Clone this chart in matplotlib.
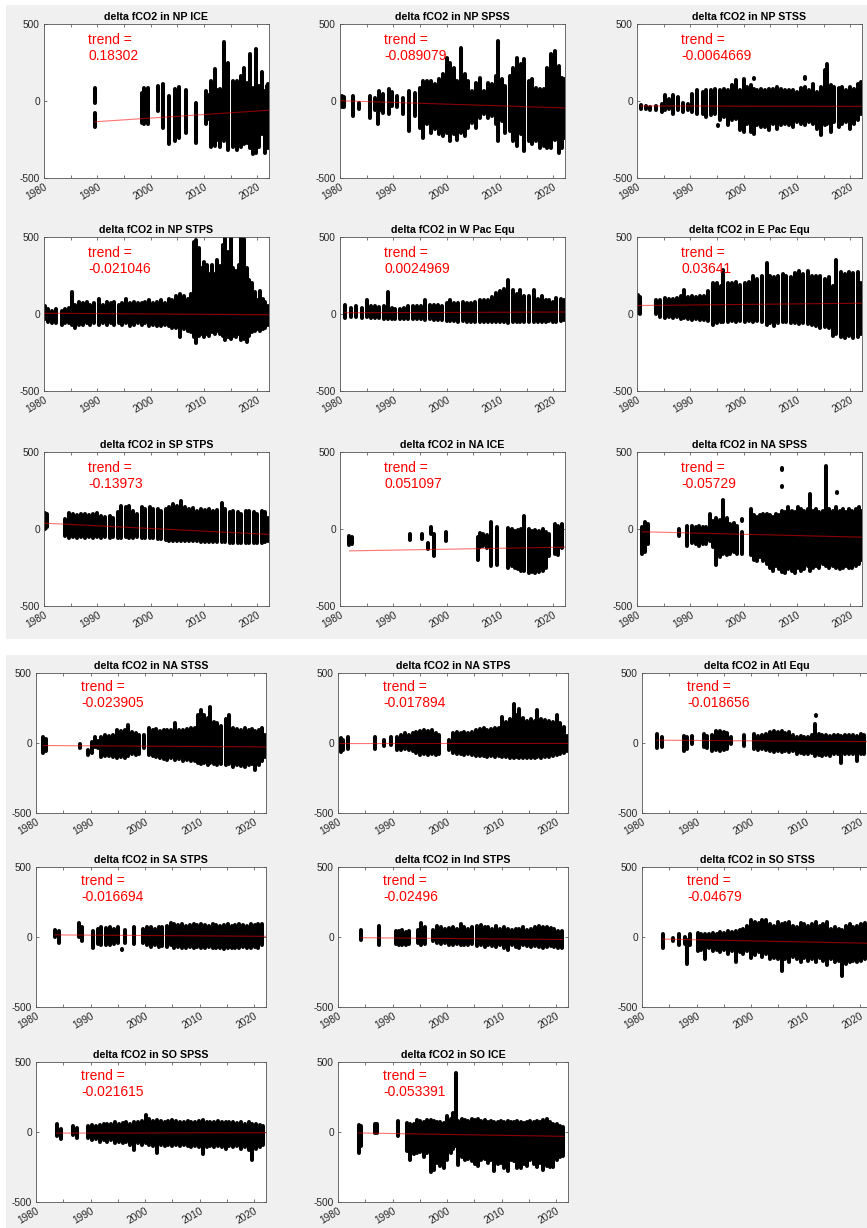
import matplotlib
matplotlib.use('Agg')
import matplotlib.pyplot as plt
from matplotlib.patches import Rectangle

plt.rcParams['font.family'] = ['Liberation Sans', 'DejaVu Sans']

W, H = 867, 1228

# --- data: (year, low, high) of each vertical run of points ---
np_ice = [(1989.5, -170, -75), (1989.5, -10, 85), (1998.3, -140, 55), (1998.8, -150, 85), (1999.5, -150, 87),
          (2001.4, -65, 95), (2002.4, -175, 108), (2003.5, -280, 35), (2004.5, -260, 75), (2005.4, -240, 90),
          (2005.4, 160, 165), (2006.7, -205, 70), (2007.6, -35, -30), (2008.6, -270, -10), (2010.4, -150, 65),
          (2010.8, -120, 40), (2011.4, -300, 130), (2012, -290, 205), (2012.5, -250, 70), (2013, -300, 75),
          (2013.7, -260, 380), (2014, -220, 100), (2014.5, -315, 250), (2015.4, -300, 130), (2015.8, -260, 110),
          (2016.2, -315, 130), (2016.6, -250, 100), (2017, -300, 165), (2017.6, -280, 215), (2018.1, -270, 120),
          (2018.6, -305, 305), (2019.2, -345, 85), (2019.8, -335, 340), (2020.3, -300, 100), (2020.8, -215, 190),
          (2021.4, -335, 65), (2021.8, -290, 100), (2022, -305, 110)]
np_spss = [(1980.3, -40, 30), (1980.8, -40, 25), (1982.5, -100, 30), (1983.5, -50, -10), (1985.6, -108, 33),
           (1986.5, -60, 20), (1987.3, -65, 65), (1987.2, -150, -70), (1988.1, -75, 45), (1989.2, -87, 76),
           (1989.8, -30, 60), (1990.6, -40, 33), (1991.8, -87, 22), (1993, -195, 65), (1994, -98, 54),
           (1995, -174, 87), (1995.6, -239, 130), (1996.4, -152, 130), (1997, -206, 130), (1997.8, -185, 108),
           (1998.6, -217, 141), (1999.3, -228, 174), (2000, -206, 282), (2000.6, -260, 250), (2001.3, -217, 217),
           (2002, -250, 130), (2002.7, -206, 347), (2003.4, -228, 174), (2004.1, -174, 130), (2004.8, -141, 65),
           (2005.5, -174, 120), (2006.3, -108, 152), (2007, -87, 65), (2007.7, -108, 120), (2008.5, -98, 108),
           (2009.2, -152, 163), (2009.7, -260, 390), (2010.4, -130, 141), (2011, -206, 98), (2011.8, -195, 163),
           (2012.5, -260, 217), (2013.2, -293, 282), (2014, -217, 239), (2014.6, -326, 271), (2015.4, -260, 130),
           (2016, -282, 141), (2016.8, -260, 87), (2017.5, -304, 76), (2018.2, -293, 76), (2018.9, -304, 217),
           (2019.6, -304, 304), (2020.3, -250, 325), (2021, -336, 228), (2021.7, -304, 152), (2022, -240, 141)]
np_stss = [(1980.8, -50, -25), (1981.6, -55, -35), (1982.5, -60, -40), (1983.5, -60, -35), (1984.6, -70, -20),
           (1985.2, -60, 37), (1986, -50, 15), (1986.8, -82, 37), (1987.6, -60, 25), (1988.6, -70, -15),
           (1989.6, -60, -20), (1990.4, -70, 48), (1991.3, -82, 69), (1992.3, -82, 58), (1993, -104, 69),
           (1993.8, -93, 69), (1994.6, -82, 80), (1995.2, -165, -155), (1995.6, -126, 69), (1996.3, -104, 80),
           (1997, -156, 69), (1997.8, -126, 102), (1998.5, -115, 135), (1999.3, -191, 69), (2000, -202, 145),
           (2000.6, -148, 91), (2001.3, -202, 102), (2002, -213, 80), (2002, 140, 150), (2002.6, -159, 69),
           (2003.3, -170, 80), (2004, -170, 69), (2004.8, -191, 80), (2005.5, -148, 80), (2006.2, -180, 91),
           (2007, -159, 80), (2007.7, -148, 69), (2008.5, -159, 74), (2009.2, -170, 69), (2010, -137, 58),
           (2010.7, -148, 87), (2011.5, -159, 91), (2011.5, 145, 155), (2012.2, -137, 69), (2013, -148, 113),
           (2013.7, -180, 58), (2014.5, -222, 91), (2015.2, -159, 200), (2015.6, -148, 243), (2016.3, -202, 102),
           (2017, -137, 91), (2017.8, -170, 87), (2018.5, -148, 91), (2019.2, -137, 69), (2020, -180, 91),
           (2020.7, -148, 80), (2021.4, -126, 113), (2022, -82, 124)]
np_stps = [(1980.2, -30, 50), (1980.8, -50, 30), (1981.5, -60, 20), (1982.3, -60, 30), (1983.3, -70, 20),
           (1984, -60, 30), (1984.6, -60, 40), (1985.3, -70, 140), (1985.8, -90, 60), (1986.5, -70, 80),
           (1987.3, -70, 70), (1988, -60, 80), (1988.7, -70, 60), (1989.4, -60, 70), (1990.3, -70, 100),
           (1991, -60, 60), (1991.8, -70, 80), (1992.5, -60, 70), (1993.2, -70, 80), (1994, -60, 60),
           (1994.7, -70, 70), (1995.4, -60, 100), (1996.2, -80, 70), (1996.9, -70, 80), (1997.6, -60, 70),
           (1998.3, -70, 70), (1999, -60, 80), (1999.7, -80, 90), (2000.5, -70, 70), (2001.2, -80, 80),
           (2002, -80, 90), (2002.7, -70, 70), (2003.4, -80, 100), (2004.1, -90, 90), (2004.8, -90, 120),
           (2005.5, -150, 130), (2006.3, -100, 120), (2007, -110, 100), (2007.6, -120, 130), (2008.1, -150, 470),
           (2008.5, -190, 480), (2009, -140, 430), (2009.5, -130, 300), (2010, -150, 340), (2010.5, -130, 320),
           (2011, -140, 260), (2011.5, -120, 320), (2012, -130, 260), (2012.5, -110, 350), (2013, -130, 310),
           (2013.5, -140, 450), (2014, -170, 500), (2014.5, -150, 400), (2015, -160, 500), (2015.5, -140, 300),
           (2016, -150, 280), (2016.5, -130, 320), (2017, -170, 500), (2017.5, -160, 490), (2018, -180, 300),
           (2018.5, -140, 220), (2019, -120, 200), (2019.5, -110, 140), (2020, -100, 90), (2020.5, -110, 150),
           (2021, -100, 100), (2021.5, -90, 80), (2022, -70, 50)]
wpac_equ = [(1980.9, -25, 60), (1982, -20, 40), (1983, -20, 54), (1984.2, -25, 40), (1985.1, -20, 93),
            (1985.8, -25, 50), (1986.6, -25, 50), (1987.4, -25, 45), (1988.2, -30, 50), (1989, -30, 140),
            (1989.7, -30, 40), (1990.4, -30, 35), (1991.2, -30, 30), (1992, -35, 40), (1992.8, -30, 50),
            (1993.6, -35, 50), (1994.4, -35, 50), (1995.2, -35, 50), (1996, -40, 93), (1996.8, -35, 60),
            (1997.6, -40, 60), (1998.4, -40, 60), (1999.2, -40, 55), (2000, -45, 70), (2000.6, -45, 93),
            (2001.4, -45, 70), (2002.2, -50, 70), (2003, -45, 75), (2003.8, -50, 70), (2004.6, -50, 70),
            (2005.4, -50, 80), (2006.2, -55, 93), (2007, -50, 93), (2007.8, -50, 93), (2008.6, -55, 110),
            (2009.2, -50, 136), (2010, -55, 147), (2010.8, -55, 160), (2011.6, -60, 218), (2012.4, -55, 158),
            (2013.2, -55, 130), (2013.7, -50, 153), (2014.6, -55, 114), (2015.4, -50, 120), (2016.4, -55, 158),
            (2017.2, -50, 100), (2017.8, -55, 114), (2018.6, -50, 90), (2019.2, -45, 93), (2020, -50, 80),
            (2020.6, -50, 104), (2021.4, -45, 95), (2022, -40, 93)]
epac_equ = [(1980.2, 6, 125), (1980.6, 0, 110), (1983.6, 0, 93), (1984.4, -20, 90), (1985.2, -26, 104),
            (1986, -20, 95), (1986.8, -25, 100), (1987.5, -20, 104), (1988.3, -30, 120), (1988.8, -25, 158),
            (1989.5, -30, 110), (1990.3, -37, 115), (1991, -35, 110), (1991.8, -40, 115), (1992.6, -37, 120),
            (1993.4, -45, 150), (1994.2, -70, 200), (1995, -60, 200), (1995.7, -55, 180), (1996.2, -50, 287),
            (1997, -50, 200), (1997.8, -48, 200), (1998.6, -50, 210), (1999.4, -45, 190), (2000.2, -50, 200),
            (2001, -45, 210), (2001.8, -50, 245), (2002.6, -45, 230), (2003.4, -50, 245), (2004.3, -70, 330),
            (2005, -60, 250), (2005.7, -80, 240), (2006.5, -60, 250), (2007.3, -55, 260), (2008, -55, 250),
            (2008.8, -60, 240), (2009.6, -60, 265), (2010.4, -65, 276), (2011.2, -60, 260), (2012, -65, 276),
            (2012.8, -70, 250), (2013.6, -75, 245), (2014.4, -90, 245), (2015.2, -85, 230), (2016, -90, 240),
            (2016.8, -145, 180), (2017.4, -130, 350), (2018.2, -150, 270), (2019, -155, 260), (2019.8, -140, 270),
            (2020.6, -155, 265), (2021.4, -150, 270), (2022, -130, 200)]
sp_stps = [(1980.2, 0, 107), (1980.6, 10, 95), (1984, -45, 63), (1984.7, -57, 107), (1985.5, -50, 100),
           (1986.2, -57, 90), (1987, -50, 100), (1987.7, -57, 95), (1988.5, -50, 90), (1989.2, -57, 100),
           (1990, -50, 107), (1990.7, -57, 85), (1991.5, -50, 80), (1992.3, -57, 85), (1993, -50, 70),
           (1993.8, -57, 110), (1994.5, -57, 150), (1995.3, -50, 140), (1996, -57, 150), (1996.7, -57, 120),
           (1997.5, -50, 100), (1998.3, -57, 140), (1999, -57, 130), (1999.8, -60, 140), (2000.5, -60, 130),
           (2001.3, -65, 130), (2002, -65, 120), (2002.8, -70, 130), (2003.5, -78, 140), (2004.2, -78, 160),
           (2005, -78, 150), (2005.7, -78, 183), (2006.5, -80, 140), (2007.2, -80, 130), (2008, -80, 135),
           (2008.7, -80, 120), (2009.5, -85, 130), (2010.2, -85, 125), (2011, -85, 130), (2011.7, -85, 120),
           (2012.5, -85, 125), (2013.4, -85, 172), (2014, -85, 130), (2014.8, -90, 110), (2015.5, -90, 120),
           (2016.3, -90, 110), (2017, -90, 100), (2017.8, -90, 120), (2018.5, -90, 115), (2019.3, -90, 110),
           (2020, -90, 100), (2020.8, -90, 120), (2021.5, -85, 110), (2022, -80, 70)]
na_ice = [(1981.7, -105, -45), (1982.3, -95, -50), (1993.2, -74, -35), (1995.3, -65, -30), (1996.5, -133, -90),
          (1997, -35, 10), (1997.6, -175, -35), (1999.8, -78, -17), (2005.8, -200, -50), (2006.3, -120, -24),
          (2006.9, -110, -30), (2007.5, -122, -40), (2008.4, -242, 48), (2009.4, -231, 10), (2011.6, -253, 9),
          (2012.2, -240, 0), (2012.8, -253, -10), (2013.4, -260, -5), (2014, -270, 0), (2014.6, -275, 85),
          (2015.4, -285, 0), (2016, -280, -10), (2016.6, -285, -5), (2017.3, -280, -15), (2018, -270, 0),
          (2018.6, -250, -20), (2019.2, -175, -35), (2020.3, -160, 30), (2020.9, -170, 20), (2021.7, -122, 35)]
na_spss = [(1981, -165, 10), (1981.5, -150, 48), (1982.1, -100, 30), (1987.8, -45, 0), (1989.4, -110, 20),
           (1990.3, -90, 20), (1991, -100, 15), (1991.7, -110, 20), (1992.4, -95, 15), (1993, -100, 10),
           (1993.7, -80, 96), (1994.3, -120, 50), (1994.9, -231, 74), (1995.5, -180, 60), (1996.2, -160, 187),
           (1996.8, -170, 70), (1997.5, -165, 30), (1998.2, -150, 40), (1998.8, -165, 20), (1999.7, -165, -20),
           (1999.7, 55, 65), (2001.3, -170, 128), (2001.9, -200, 90), (2002.5, -209, 80), (2003.1, -180, 90),
           (2003.7, -209, 100), (2004.3, -230, 96), (2004.9, -250, 90), (2005.5, -275, 80), (2006.1, -240, 96),
           (2006.7, -260, 90), (2007.2, -280, 120), (2007.2, 270, 280), (2007.2, 385, 395), (2007.8, -285, 110),
           (2008.4, -260, 140), (2009, -270, 120), (2009.6, -285, 110), (2010.2, -250, 140), (2010.8, -270, 130),
           (2011.4, -260, 120), (2012, -240, 130), (2012.4, -270, 227), (2013, -253, 120), (2013.6, -240, 130),
           (2014.2, -253, 110), (2014.8, -230, 120), (2015.5, -240, 412), (2016.1, -253, 130), (2016.7, -240, 120),
           (2017.3, -250, 140), (2017.6, 235, 242), (2018, -260, 120), (2018.6, -250, 130), (2019.2, -240, 110),
           (2019.8, -253, 130), (2020.4, -250, 120), (2021, -240, 130), (2021.6, -230, 140), (2022.1, -200, 120)]
na_stss = [(1981.3, -73, 45), (1981.9, -60, 30), (1988, -38, -5), (1989.5, -85, -50), (1990.3, -70, 5),
           (1990.8, -30, 45), (1991.4, -35, 15), (1992, -97, 45), (1992.7, -90, 57), (1993.4, -95, 50),
           (1994.2, -100, 60), (1994.9, -109, 92), (1995.6, -100, 85), (1996.3, -109, 92), (1996.9, -90, 128),
           (1997.6, -80, 80), (1998.3, -85, 75), (1998.9, -75, 60), (1999.9, -38, 57), (2000.7, -85, 104),
           (2001.4, -95, 90), (2002, -100, 100), (2002.7, -109, 85), (2003.4, -115, 92), (2004.1, -121, 90),
           (2004.8, -110, 92), (2005.5, -121, 140), (2006.3, -115, 90), (2007, -125, 95), (2007.7, -121, 100),
           (2008.4, -130, 104), (2009.1, -125, 110), (2009.8, -140, 200), (2010.2, -150, 235), (2010.9, -145, 200),
           (2011.6, -156, 180), (2011.9, -140, 258), (2012.6, -150, 150), (2013.3, -156, 140), (2014, -150, 120),
           (2014.8, -160, 175), (2015.5, -150, 200), (2016.2, -168, 110), (2016.9, -160, 100), (2017.6, -165, 95),
           (2018.3, -168, 105), (2019, -160, 90), (2019.7, -150, 100), (2020.2, -192, 85), (2020.9, -160, 95),
           (2021.5, -130, 110), (2022.1, -100, 60)]
na_stps = [(1980.5, -62, 33), (1981, -50, 25), (1981.9, -40, 45), (1986.7, -40, 45), (1988.4, -22, 22),
           (1989.8, -15, 45), (1990.9, -50, 45), (1991.6, -50, 60), (1992.3, -45, 69), (1993, -50, 60),
           (1993.7, -60, 69), (1994.4, -70, 80), (1995.1, -85, 85), (1995.8, -80, 92), (1996.5, -85, 85),
           (1997.2, -80, 92), (1997.9, -85, 70), (1998.6, -75, 60), (2000.4, -50, 22), (2001.1, -70, 75),
           (2001.8, -80, 80), (2002.5, -80, 75), (2003.2, -85, 80), (2003.9, -80, 70), (2004.6, -85, 80),
           (2005.3, -90, 90), (2006, -95, 100), (2006.7, -90, 104), (2007.4, -97, 95), (2008.1, -95, 100),
           (2008.8, -97, 104), (2009.5, -95, 110), (2010.1, -100, 187), (2010.8, -100, 150), (2011.5, -105, 170),
           (2012.3, -109, 282), (2012.8, -100, 200), (2013.3, -105, 246), (2014, -109, 180), (2014.7, -105, 160),
           (2015.4, -105, 170), (2016.1, -109, 160), (2016.6, -100, 235), (2017.3, -105, 170), (2018, -100, 163),
           (2018.7, -100, 160), (2019.4, -95, 150), (2020.1, -85, 200), (2020.8, -80, 140), (2021.5, -70, 115),
           (2022.1, -60, 50)]
atl_equ = [(1982.8, -36, 64), (1983.6, -30, 40), (1987.7, -55, 52), (1988.3, -40, 40), (1989.2, -5, 52),
           (1991.4, -30, 64), (1992, -35, 50), (1992.9, -55, 60), (1993.6, -50, 88), (1994.3, -55, 85),
           (1995, -50, 80), (1995.6, -40, 70), (1996.3, -10, 40), (1998.8, -20, 55), (2000.5, -45, 64),
           (2001.2, -50, 50), (2002, -40, 60), (2002.8, -50, 64), (2003.5, -60, 80), (2004.2, -66, 88),
           (2004.9, -60, 80), (2005.6, -66, 85), (2006.3, -60, 70), (2007, -66, 80), (2007.7, -60, 60),
           (2008.4, -78, 40), (2009.1, -70, 50), (2009.8, -78, 45), (2010.5, -75, 40), (2011.2, -70, 60),
           (2011.8, -90, 135), (2011.85, 190, 200), (2012.4, -85, 64), (2013.1, -90, 55), (2013.8, -85, 60),
           (2014.5, -90, 50), (2015.2, -80, 55), (2015.9, -75, 60), (2016.6, -145, 50), (2017.3, -80, 60),
           (2018, -75, 55), (2018.7, -80, 60), (2019.4, -126, 50), (2020.1, -80, 64), (2020.8, -75, 55),
           (2021.5, -70, 60), (2022.1, -60, 50)]
sa_stps = [(1983.5, 0, 50), (1984.3, -45, 40), (1987.8, 0, 100), (1988.5, -30, 70), (1990.4, -80, 40),
           (1991.3, -50, 60), (1992, -60, 70), (1992.8, -55, 65), (1993.5, -60, 70), (1994.3, -50, 60),
           (1995.1, -40, 70), (1995.8, -95, -85), (1996.4, -40, 50), (1998, -50, 70), (1999.6, -40, 60),
           (2000.4, -60, 75), (2001.1, -70, 70), (2001.8, -60, 60), (2002.5, -70, 75), (2003.2, -65, 70),
           (2004, -70, 80), (2004.7, -60, 100), (2005.4, -75, 90), (2006.1, -70, 85), (2006.8, -75, 90),
           (2007.5, -80, 80), (2008.2, -70, 85), (2008.9, -75, 90), (2009.6, -70, 85), (2010.3, -80, 90),
           (2011, -75, 85), (2011.7, -70, 80), (2012.4, -80, 90), (2013.1, -75, 85), (2013.8, -80, 80),
           (2014.5, -85, 85), (2015.2, -80, 90), (2015.9, -75, 80), (2016.6, -80, 85), (2017.3, -75, 90),
           (2018, -70, 85), (2018.7, -80, 80), (2019.4, -75, 90), (2020.1, -70, 85), (2020.8, -75, 90),
           (2021.5, -60, 90)]
ind_stps = [(1984.3, -20, 50), (1987.6, -60, 80), (1990.6, -50, 45), (1991.2, -60, 40), (1991.8, -55, 50),
            (1992.4, -60, 35), (1993, -50, 40), (1994.7, -40, 50), (1995.3, -60, 100), (1995.9, -50, 70),
            (1997.5, -30, 50), (1998.2, -40, 80), (1998.9, -50, 70), (1999.6, -45, 60), (2000.4, -55, 65),
            (2001.1, -60, 70), (2001.8, -50, 60), (2002.5, -60, 90), (2003.2, -55, 70), (2003.9, -60, 60),
            (2004.6, -50, 75), (2005.5, -65, 80), (2006.2, -60, 85), (2006.9, -70, 70), (2007.6, -60, 75),
            (2008.3, -65, 60), (2009, -70, 80), (2009.7, -60, 60), (2010.4, -75, 70), (2011.2, -90, 60),
            (2011.9, -60, 50), (2012.6, -70, 60), (2013.3, -75, 55), (2014, -60, 70), (2014.7, -65, 50),
            (2015.5, -70, 60), (2016.2, -65, 70), (2016.9, -70, 80), (2017.6, -75, 75), (2018.3, -70, 70),
            (2019, -65, 65), (2019.7, -70, 60), (2020.4, -75, 45), (2021.1, -80, 40)]
so_stss = [(1983.8, -75, 20), (1985.6, -30, -10), (1986.8, -60, 20), (1987.8, -50, 0), (1988.3, -190, -20),
           (1988.8, -60, 25), (1990.2, -100, 30), (1990.9, -90, 25), (1991.6, -160, 20), (1992.3, -80, 25),
           (1993, -100, 30), (1993.7, -90, 20), (1994.4, -110, 35), (1995.1, -90, 30), (1995.8, -120, 40),
           (1996.5, -100, 35), (1997.2, -180, 40), (1997.9, -110, 50), (1998.6, -120, 60), (1999.3, -100, 80),
           (2000, -150, 120), (2000.7, -130, 110), (2001.4, -110, 100), (2002.1, -140, 125), (2002.8, -120, 125),
           (2003.5, -160, 90), (2004.2, -150, 80), (2004.9, -160, 110), (2005.6, -240, 90), (2006.3, -160, 100),
           (2007, -180, 110), (2007.7, -140, 80), (2008.4, -160, 70), (2009.1, -180, 100), (2009.8, -150, 90),
           (2010.5, -170, 80), (2011.2, -160, 90), (2011.9, -180, 110), (2012.6, -150, 80), (2013.3, -170, 90),
           (2014, -200, 110), (2014.7, -160, 60), (2015.4, -180, 70), (2016.1, -170, 60), (2016.7, -280, 50),
           (2017.4, -190, 80), (2018.1, -180, 90), (2018.8, -170, 70), (2019.5, -180, 80), (2020.2, -170, 90),
           (2020.9, -160, 100), (2021.6, -150, 80)]
so_spss = [(1983.8, -30, 60), (1984.6, -50, 20), (1986.8, -20, 40), (1987.5, -40, 30), (1989.6, -40, 40),
           (1990.3, -60, 50), (1991, -50, 45), (1991.7, -70, 50), (1992.4, -60, 60), (1993.1, -70, 55),
           (1993.8, -60, 60), (1994.5, -80, 70), (1995.2, -70, 60), (1995.9, -80, 65), (1996.6, -70, 70),
           (1997.3, -90, 60), (1998, -130, 70), (1998.7, -80, 75), (1999.4, -90, 80), (2000.1, -80, 120),
           (2000.8, -90, 90), (2001.5, -100, 80), (2002.2, -150, 85), (2002.9, -90, 80), (2003.6, -100, 75),
           (2004.3, -90, 80), (2005, -100, 85), (2005.7, -90, 80), (2006.4, -100, 70), (2007.1, -95, 75),
           (2007.8, -100, 80), (2008.5, -110, 70), (2009.2, -100, 75), (2009.9, -110, 80), (2010.6, -160, 85),
           (2011.3, -110, 70), (2012, -100, 75), (2012.7, -110, 70), (2013.4, -100, 80), (2014.1, -110, 75),
           (2014.8, -120, 70), (2015.5, -100, 75), (2016.2, -110, 70), (2016.9, -100, 65), (2017.6, -120, 70),
           (2018.3, -110, 60), (2019, -130, 70), (2019.7, -200, 60), (2020.4, -120, 60), (2021.1, -110, 50),
           (2021.7, -90, 40)]
so_ice = [(1983.8, -150, 52), (1984.2, -100, 40), (1986.7, -10, 60), (1987.1, -10, 55), (1991, -26, 76),
          (1992.7, -138, 64), (1993.3, -197, 60), (1993.9, -160, 55), (1994.5, -150, 88), (1995.1, -140, 80),
          (1995.7, -180, 75), (1996.3, -150, 88), (1997, -288, 85), (1997.6, -270, 76), (1998.2, -221, 70),
          (1998.8, -240, 75), (1999.4, -260, 65), (2000, -200, 116), (2000.7, -150, 90), (2001.1, -120, 135),
          (2001.6, -100, 420), (2002.1, -233, 80), (2002.7, -180, 92), (2003.3, -200, 85), (2003.9, -190, 80),
          (2004.5, -210, 90), (2005.1, -230, 85), (2005.7, -245, 92), (2006.3, -200, 80), (2006.9, -190, 85),
          (2007.5, -220, 75), (2008.1, -200, 80), (2008.7, -281, 70), (2009.3, -230, 75), (2009.9, -220, 80),
          (2010.5, -260, 70), (2011.1, -275, 80), (2011.7, -200, 70), (2012.3, -210, 75), (2012.9, -255, 80),
          (2013.5, -260, 70), (2014.1, -230, 65), (2014.7, -240, 75), (2015.3, -200, 80), (2015.9, -230, 70),
          (2016.5, -250, 80), (2017.1, -220, 75), (2017.7, -270, 85), (2018.3, -240, 90), (2018.9, -250, 70),
          (2019.5, -250, 60), (2020.1, -200, 55), (2020.7, -180, 45), (2021.3, -170, 35)]

# fitted trend line: (start year, start value), (end year, end value)
trend_lines = [[(1989.5, -135), (2022.2, -60)], [(1980, 2), (2022.2, -45)], [(1980.8, -32), (2022.2, -35)],
               [(1980, 5), (2022.2, -5)], [(1980.9, 8), (2022.2, 13)], [(1980, 55), (2022.2, 70)],
               [(1980, 38), (2022.2, -35)], [(1981.8, -142), (2022.2, -118)], [(1981, -18), (2022.2, -53)],
               [(1981.3, -18), (2022.2, -28)], [(1980.4, -4), (2022.2, -3)], [(1982.8, 20), (2022.2, 10)],
               [(1983.5, 15), (2022.2, 5)], [(1984.3, -5), (2021.2, -18)], [(1983.8, -15), (2022.2, -45)],
               [(1983.8, -8), (2022.2, -5)], [(1983.8, -7), (2021.5, -31)]]

regions = ['NP ICE', 'NP SPSS', 'NP STSS', 'NP STPS', 'W Pac Equ', 'E Pac Equ', 'SP STPS', 'NA ICE', 'NA SPSS',
           'NA STSS', 'NA STPS', 'Atl Equ', 'SA STPS', 'Ind STPS', 'SO STSS', 'SO SPSS', 'SO ICE']
trend_vals = ['0.18302', '-0.089079', '-0.0064669', '-0.021046', '0.0024969', '0.03641', '-0.13973', '0.051097',
              '-0.05729', '-0.023905', '-0.017894', '-0.018656', '-0.016694', '-0.02496', '-0.04679',
              '-0.021615', '-0.053391']
series = [np_ice, np_spss, np_stss, np_stps, wpac_equ, epac_equ, sp_stps, na_ice, na_spss,
          na_stss, na_stps, atl_equ, sa_stps, ind_stps, so_stss, so_spss, so_ice]

xticks = [1980, 1985, 1990, 1995, 2000, 2005, 2010, 2015, 2020]
xticklabels = ['1980', '', '1990', '', '2000', '', '2010', '', '2020']

# --- layout in pixels ---
fig = plt.figure(figsize=(W / 100, H / 100), dpi=100)
fig.patch.set_facecolor('white')
for (x0, y0, x1, y1) in [(6, 5, 867, 639), (6, 655, 867, 1228)]:
    fig.add_artist(Rectangle((x0 / W, 1 - y1 / H), (x1 - x0) / W, (y1 - y0) / H,
                             transform=fig.transFigure, facecolor='#f0f0f0', edgecolor='none', zorder=-10))

boxes = []
for top in [24, 237, 452]:
    for left in [44, 340, 637]:
        boxes.append((left, top, 225, 154))
for top in [673, 867, 1062]:
    for left in [36, 338, 642]:
        boxes.append((left, top, 230, 140))

for i, name in enumerate(regions):
    left, top, w, h = boxes[i]
    ax = fig.add_axes([left / W, 1 - (top + h) / H, w / W, h / H])
    ax.set_zorder(1)
    ax.set_facecolor('white')
    t, lo, hi = zip(*series[i])
    ax.vlines(t, lo, hi, colors='black', linewidth=2.9, capstyle='round', zorder=2)
    (tx0, ty0), (tx1, ty1) = trend_lines[i]
    ax.plot([tx0, tx1], [ty0, ty1], color='red', alpha=0.55, linewidth=0.8, zorder=3)
    ax.text(1988.3, 345, 'trend =\n' + trend_vals[i], color='red', fontsize=10, va='center', ha='left',
            linespacing=1.15, zorder=4)
    ax.set_xlim(1980, 2022.2)
    ax.set_ylim(-500, 500)
    ax.set_xticks(xticks)
    ax.set_xticklabels(xticklabels)
    ax.set_yticks([-500, 0, 500])
    ax.set_yticklabels(['-500', '0', '500'])
    ax.tick_params(direction='in', length=2.2, width=0.5, top=True, right=True,
                   labelsize=7.3, labelcolor='#262626', color='#404040', pad=3)
    for lbl in ax.get_xticklabels():
        lbl.set_rotation(30)
        lbl.set_ha('right')
        lbl.set_rotation_mode('anchor')
    for s in ax.spines.values():
        s.set_color('#555555')
        s.set_linewidth(0.6)
    ax.set_title('delta fCO2 in ' + name, fontsize=7.7, fontweight='bold', pad=3)

fig.savefig('out.png', dpi=100)
